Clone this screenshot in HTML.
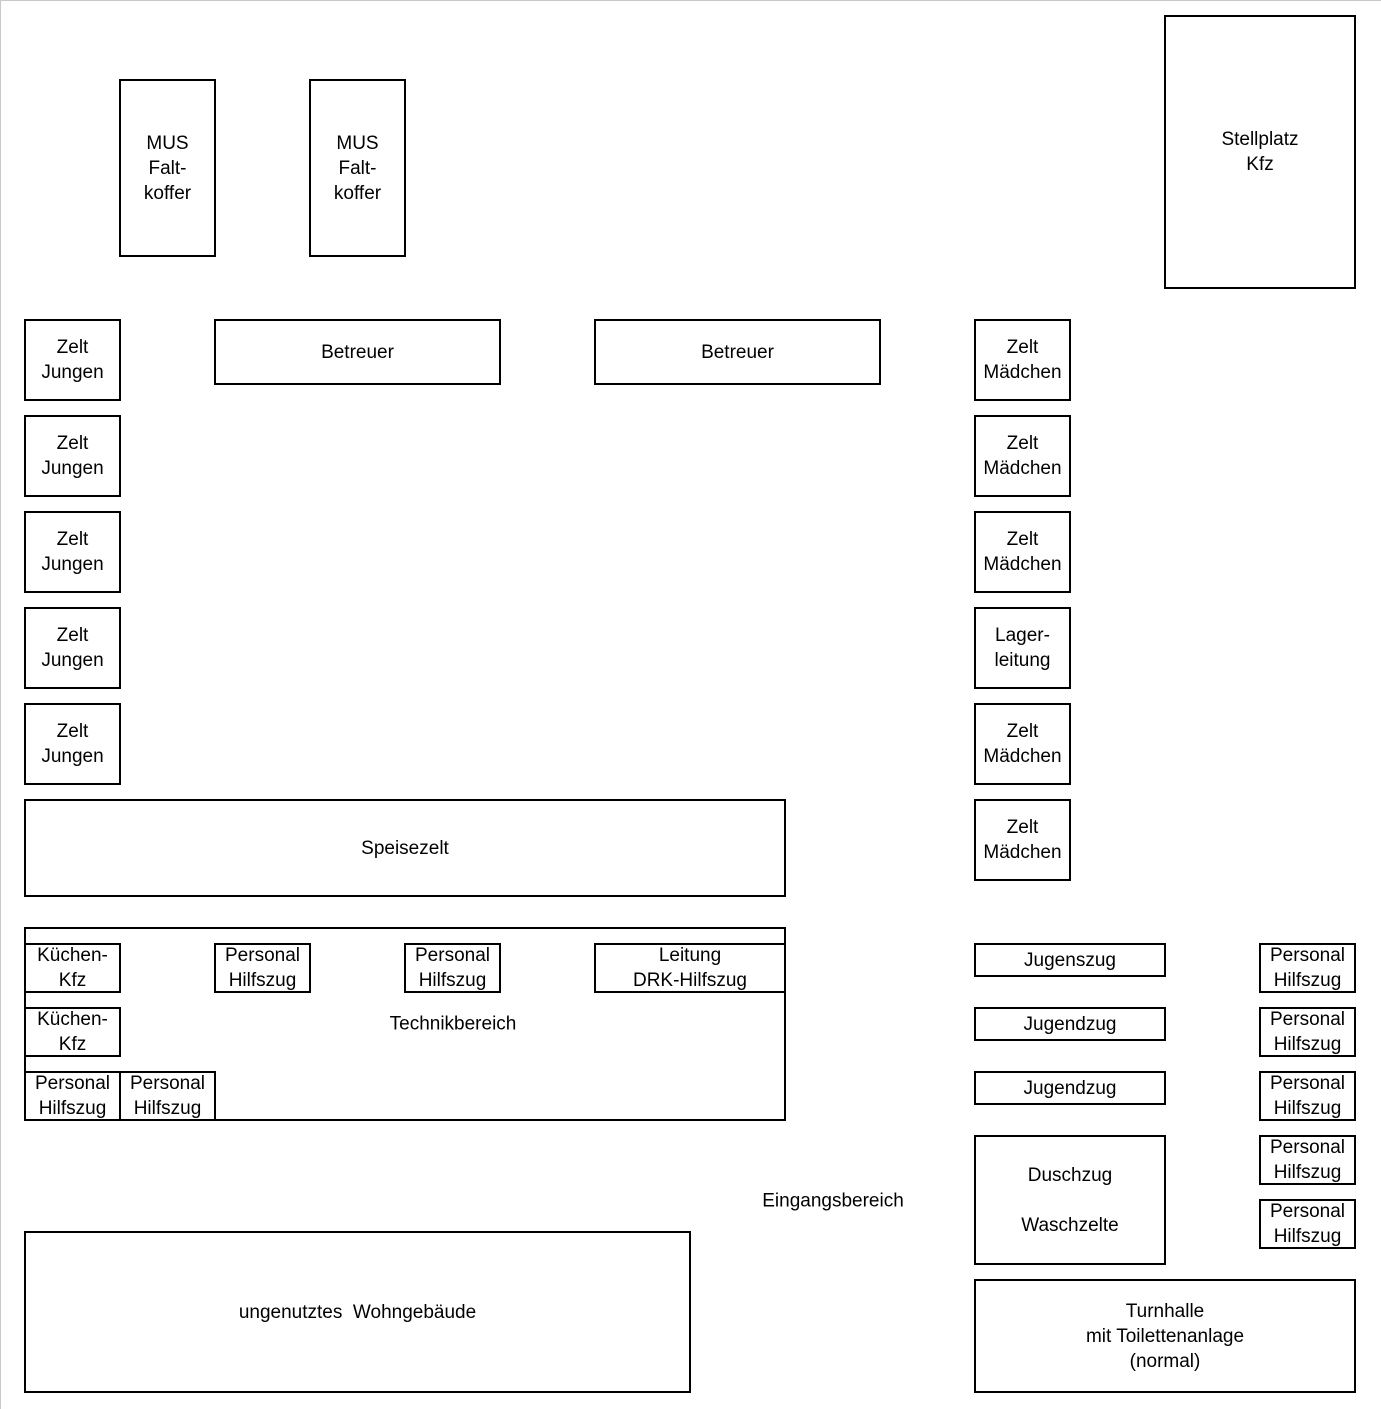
<!DOCTYPE html>
<html><head><meta charset="utf-8"><style>
html,body{margin:0;padding:0;background:#fff}
body{width:1381px;height:1409px;position:relative;overflow:hidden;font-family:"Liberation Sans","DejaVu Sans",sans-serif;font-size:19px;color:#000}
.pg{position:absolute;left:0;top:0;width:1381px;height:1409px;box-sizing:border-box;border-top:1px solid #c8c8c8;border-left:1px solid #c8c8c8}
.b{position:absolute;box-sizing:border-box;border:2px solid #000;display:flex;align-items:center;justify-content:center;text-align:center;line-height:25px;white-space:nowrap;overflow:visible}
.t{position:absolute;line-height:25px;white-space:nowrap;transform:translate(-50%,-50%)}
</style></head><body>
<div class="pg"></div>
<div class="b" style="left:119px;top:79px;width:97px;height:178px">MUS<br>Falt-<br>koffer</div>
<div class="b" style="left:309px;top:79px;width:97px;height:178px">MUS<br>Falt-<br>koffer</div>
<div class="b" style="left:1164px;top:15px;width:192px;height:274px">Stellplatz<br>Kfz</div>

<div class="b" style="left:24px;top:319px;width:97px;height:82px">Zelt<br>Jungen</div>
<div class="b" style="left:24px;top:415px;width:97px;height:82px">Zelt<br>Jungen</div>
<div class="b" style="left:24px;top:511px;width:97px;height:82px">Zelt<br>Jungen</div>
<div class="b" style="left:24px;top:607px;width:97px;height:82px">Zelt<br>Jungen</div>
<div class="b" style="left:24px;top:703px;width:97px;height:82px">Zelt<br>Jungen</div>

<div class="b" style="left:214px;top:319px;width:287px;height:66px">Betreuer</div>
<div class="b" style="left:594px;top:319px;width:287px;height:66px">Betreuer</div>

<div class="b" style="left:974px;top:319px;width:97px;height:82px">Zelt<br>Mädchen</div>
<div class="b" style="left:974px;top:415px;width:97px;height:82px">Zelt<br>Mädchen</div>
<div class="b" style="left:974px;top:511px;width:97px;height:82px">Zelt<br>Mädchen</div>
<div class="b" style="left:974px;top:607px;width:97px;height:82px">Lager-<br>leitung</div>
<div class="b" style="left:974px;top:703px;width:97px;height:82px">Zelt<br>Mädchen</div>
<div class="b" style="left:974px;top:799px;width:97px;height:82px">Zelt<br>Mädchen</div>

<div class="b" style="left:24px;top:799px;width:762px;height:98px">Speisezelt</div>

<div class="b" style="left:24px;top:927px;width:762px;height:194px"></div>
<div class="t" style="left:453px;top:1024px">Technikbereich</div>
<div class="b" style="left:24px;top:943px;width:97px;height:50px">Küchen-<br>Kfz</div>
<div class="b" style="left:24px;top:1007px;width:97px;height:50px">Küchen-<br>Kfz</div>
<div class="b" style="left:24px;top:1071px;width:97px;height:50px">Personal<br>Hilfszug</div>
<div class="b" style="left:119px;top:1071px;width:97px;height:50px">Personal<br>Hilfszug</div>
<div class="b" style="left:214px;top:943px;width:97px;height:50px">Personal<br>Hilfszug</div>
<div class="b" style="left:404px;top:943px;width:97px;height:50px">Personal<br>Hilfszug</div>
<div class="b" style="left:594px;top:943px;width:192px;height:50px">Leitung<br>DRK-Hilfszug</div>

<div class="b" style="left:974px;top:943px;width:192px;height:34px">Jugenszug</div>
<div class="b" style="left:974px;top:1007px;width:192px;height:34px">Jugendzug</div>
<div class="b" style="left:974px;top:1071px;width:192px;height:34px">Jugendzug</div>
<div class="b" style="left:974px;top:1135px;width:192px;height:130px">Duschzug<br><br>Waschzelte</div>

<div class="b" style="left:1259px;top:943px;width:97px;height:50px">Personal<br>Hilfszug</div>
<div class="b" style="left:1259px;top:1007px;width:97px;height:50px">Personal<br>Hilfszug</div>
<div class="b" style="left:1259px;top:1071px;width:97px;height:50px">Personal<br>Hilfszug</div>
<div class="b" style="left:1259px;top:1135px;width:97px;height:50px">Personal<br>Hilfszug</div>
<div class="b" style="left:1259px;top:1199px;width:97px;height:50px">Personal<br>Hilfszug</div>

<div class="t" style="left:833px;top:1201px">Eingangsbereich</div>
<div class="b" style="left:24px;top:1231px;width:667px;height:162px">ungenutztes&nbsp; Wohngebäude</div>
<div class="b" style="left:974px;top:1279px;width:382px;height:114px">Turnhalle<br>mit Toilettenanlage<br>(normal)</div>
</body></html>
